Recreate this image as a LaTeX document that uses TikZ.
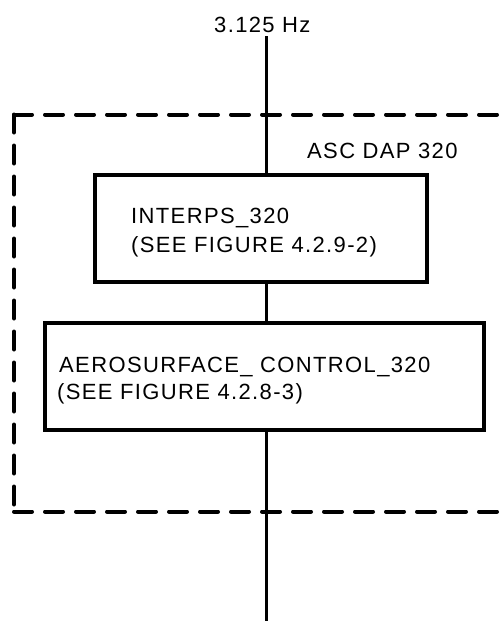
\documentclass[tikz,border=0pt]{standalone}
\usepackage{fontspec}
\setmainfont{Liberation Sans}[LetterSpace=6.2]
\begin{document}
\begin{tikzpicture}[x=1pt,y=-1pt]
\tikzset{
  blk/.style={draw, line width=4pt, inner sep=0pt},
  lbl/.style={inner sep=0pt, anchor=base west, font=\fontsize{22}{28}\selectfont},
  wire/.style={line width=3pt},
  frame/.style={line width=4pt, line cap=round, dash pattern=on 18pt off 13pt},
}
\fill[white] (0,0) rectangle (503,624);
\useasboundingbox (0,0) rectangle (503,624);

% dashed frame
\coordinate (ftl) at (14,114.5);
\coordinate (fbl) at (14,511.5);
\coordinate (ftr) at (530,114.5);
\coordinate (fbr) at (530,511.5);
\draw[frame] (ftl) -- (ftr);
\draw[frame] (fbl) -- (fbr);
\draw[frame] (ftl) -- (fbl);

% boxes
\node[blk, minimum width=332.3pt, minimum height=106.4pt] (b1) at (260.85,228.5) {};
\node[blk, minimum width=438.7pt, minimum height=106.7pt] (b2) at (264.65,376.65) {};

% connectors
\coordinate (src) at (266,36);
\coordinate (sink) at (266,621);
\draw[wire] (src) -- (b1.north -| src);
\draw[wire] (b1.south -| src) -- (b2.north -| src);
\draw[wire] (b2.south -| src) -- (sink);

% texts
\node[lbl] (hz) at (214,32) {3.125 Hz};
\node[lbl] (dap) at (307,158) {ASC DAP 320};
\node[lbl] (t1a) at (131,223.5) {INTERPS\_320};
\node[lbl] (t1b) at (131,252) {(SEE FIGURE 4.2.9-2)};
\node[lbl] (t2a) at (59,372) {AEROSURFACE\_ CONTROL\_320};
\node[lbl] (t2b) at (57,399.5) {(SEE FIGURE 4.2.8-3)};
\end{tikzpicture}
\end{document}
